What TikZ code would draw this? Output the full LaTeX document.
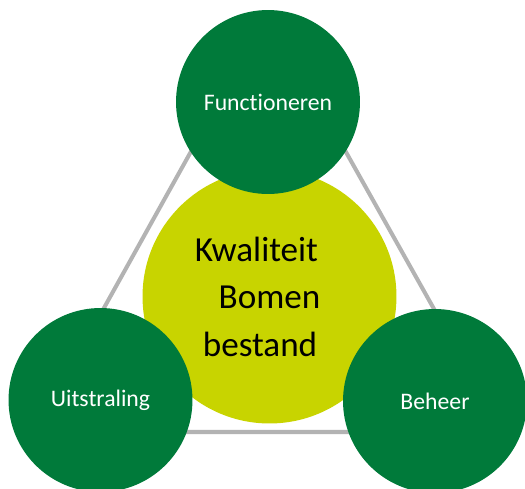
\documentclass[tikz,border=0pt]{standalone}
\usepackage{fontspec}
\setmainfont{Carlito}[Ligatures=NoCommon]
\usetikzlibrary{positioning}

\definecolor{donkergroen}{HTML}{007A3A}
\definecolor{geelgroen}{HTML}{C8D400}
\definecolor{lijngrijs}{HTML}{B3B3B3}

\begin{document}
\begin{tikzpicture}[
    x=0.02cm, y=-0.02cm,
    aspect/.style={circle, minimum size=3.68cm, inner sep=0pt, fill=donkergroen, text=white, font=\fontsize{13.5}{16}\selectfont},
    kern/.style={circle, minimum size=5.08cm, inner sep=0pt, fill=geelgroen, text=black, align=center, font=\fontsize{20}{27}\selectfont},
    lijn/.style={draw=lijngrijs, line width=2.3pt, line join=round}
]

% Frame
\clip (0,0) rectangle (525,488);

% Triangle corners
\coordinate (top) at (268,13);
\coordinate (links) at (35,432);
\coordinate (rechts) at (503,432);

% Triangle
\draw[lijn] (top) -- (links) -- (rechts) -- cycle;

% Core
\node[kern] (kwaliteit) at (269.5,296.5) {Kwaliteit\hspace*{0.74em}\\Bomen\hspace*{0.46em}\\bestand\hspace*{0.54em}};

% Aspects
\node[aspect] (functioneren) at (268,102) {Functioneren};
\node[aspect] (uitstraling) at (100.5,400) {Uitstraling};
\node[aspect] (beheer) at (435,401) {Beheer};

\end{tikzpicture}
\end{document}
